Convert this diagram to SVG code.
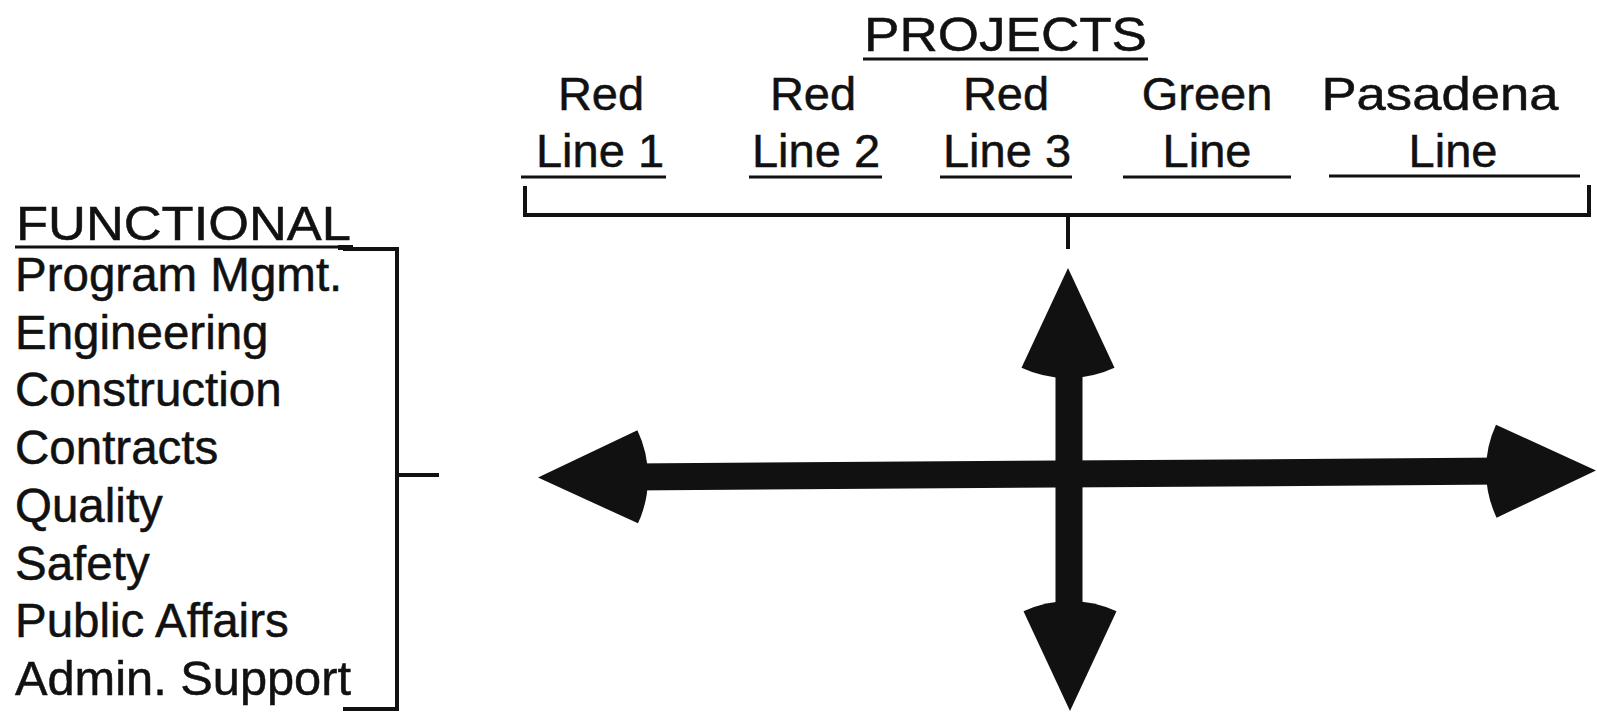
<svg xmlns="http://www.w3.org/2000/svg" width="1597" height="712" viewBox="0 0 1597 712">
  <style>
    .t { font-family: "Liberation Sans", Arial, Helvetica, sans-serif; fill: #111; stroke: #111; stroke-width: 0.5; }
    .hd { font-size: 49px; }
    .lb { font-size: 47px; text-anchor: middle; }
    .it { font-size: 47.5px; }
    .ul { stroke: #111; stroke-width: 3; fill: none; }
    .br { stroke: #111; stroke-width: 4; fill: none; stroke-linecap: square; }
    .shaft { stroke: #111; stroke-width: 27; fill: none; }
    .head { fill: #111; }
  </style>
  <defs>
    <!-- sector-shaped arrowhead, tip at origin, pointing to +x -->
    <path id="ah" d="M0,0 L-99.7,-46.5 A110,110 0 0 0 -99.7,46.5 Z"/>
  </defs>

  <rect width="1597" height="712" fill="#fff"/>

  <!-- Projects header and project columns -->
  <g id="projects">
    <text class="t hd" x="864" y="51" textLength="283" lengthAdjust="spacingAndGlyphs">PROJECTS</text>
    <line class="ul" x1="863" y1="59" x2="1148" y2="59"/>
  </g>

  <g id="red-line-1">
    <text class="t lb" x="601" y="110">Red</text>
    <text class="t lb" x="600" y="167">Line 1</text>
    <line class="ul" x1="521" y1="177" x2="666" y2="177"/>
  </g>
  <g id="red-line-2">
    <text class="t lb" x="813" y="110">Red</text>
    <text class="t lb" x="816" y="167">Line 2</text>
    <line class="ul" x1="749" y1="177" x2="882" y2="177"/>
  </g>
  <g id="red-line-3">
    <text class="t lb" x="1006" y="110">Red</text>
    <text class="t lb" x="1007" y="167">Line 3</text>
    <line class="ul" x1="940" y1="177" x2="1072" y2="177"/>
  </g>
  <g id="green-line">
    <text class="t lb" x="1207" y="110">Green</text>
    <text class="t lb" x="1207" y="167">Line</text>
    <line class="ul" x1="1123" y1="177" x2="1291" y2="177"/>
  </g>
  <g id="pasadena-line">
    <text class="t lb" x="1440" y="110" textLength="237" lengthAdjust="spacingAndGlyphs">Pasadena</text>
    <text class="t lb" x="1453" y="167">Line</text>
    <line class="ul" x1="1329" y1="176" x2="1580" y2="176"/>
  </g>

  <!-- Functional header and function list -->
  <g id="functional">
    <text class="t hd" x="16" y="240" textLength="335" lengthAdjust="spacingAndGlyphs">FUNCTIONAL</text>
    <line class="ul" x1="15" y1="247" x2="352" y2="247"/>
    <rect x="338" y="245" width="15" height="5" fill="#111"/>
  </g>
  <g id="functions">
    <text class="t it" x="15" y="291">Program Mgmt.</text>
    <text class="t it" x="15" y="349">Engineering</text>
    <text class="t it" x="15" y="406">Construction</text>
    <text class="t it" x="15" y="464">Contracts</text>
    <text class="t it" x="15" y="522">Quality</text>
    <text class="t it" x="15" y="580">Safety</text>
    <text class="t it" x="15" y="637">Public Affairs</text>
    <text class="t it" x="15" y="695" textLength="336" lengthAdjust="spacingAndGlyphs">Admin. Support</text>
  </g>

  <!-- Brackets and the matrix cross -->
  <g id="connectors">
    <!-- project bracket -->
    <path class="br" d="M525,188 V215 H1589 V187"/>
    <line class="br" x1="1068" y1="215" x2="1068" y2="247"/>
    <!-- functional bracket -->
    <path class="br" d="M345,249 H397 V709 H345"/>
    <line class="br" x1="397" y1="475" x2="437" y2="475"/>

    <!-- horizontal double arrow, drawn with a very slight rise to the right -->
    <g transform="rotate(-0.38 1067 474)">
      <line class="shaft" x1="630" y1="474" x2="1505" y2="474"/>
      <use href="#ah" class="head" transform="translate(1596,474)"/>
      <use href="#ah" class="head" transform="translate(538,474) rotate(180)"/>
    </g>

    <!-- vertical double arrow -->
    <line class="shaft" x1="1069" y1="360" x2="1069" y2="620"/>
    <use href="#ah" class="head" transform="translate(1068,268) rotate(-90)"/>
    <use href="#ah" class="head" transform="translate(1070,711) rotate(90)"/>
  </g>
</svg>
